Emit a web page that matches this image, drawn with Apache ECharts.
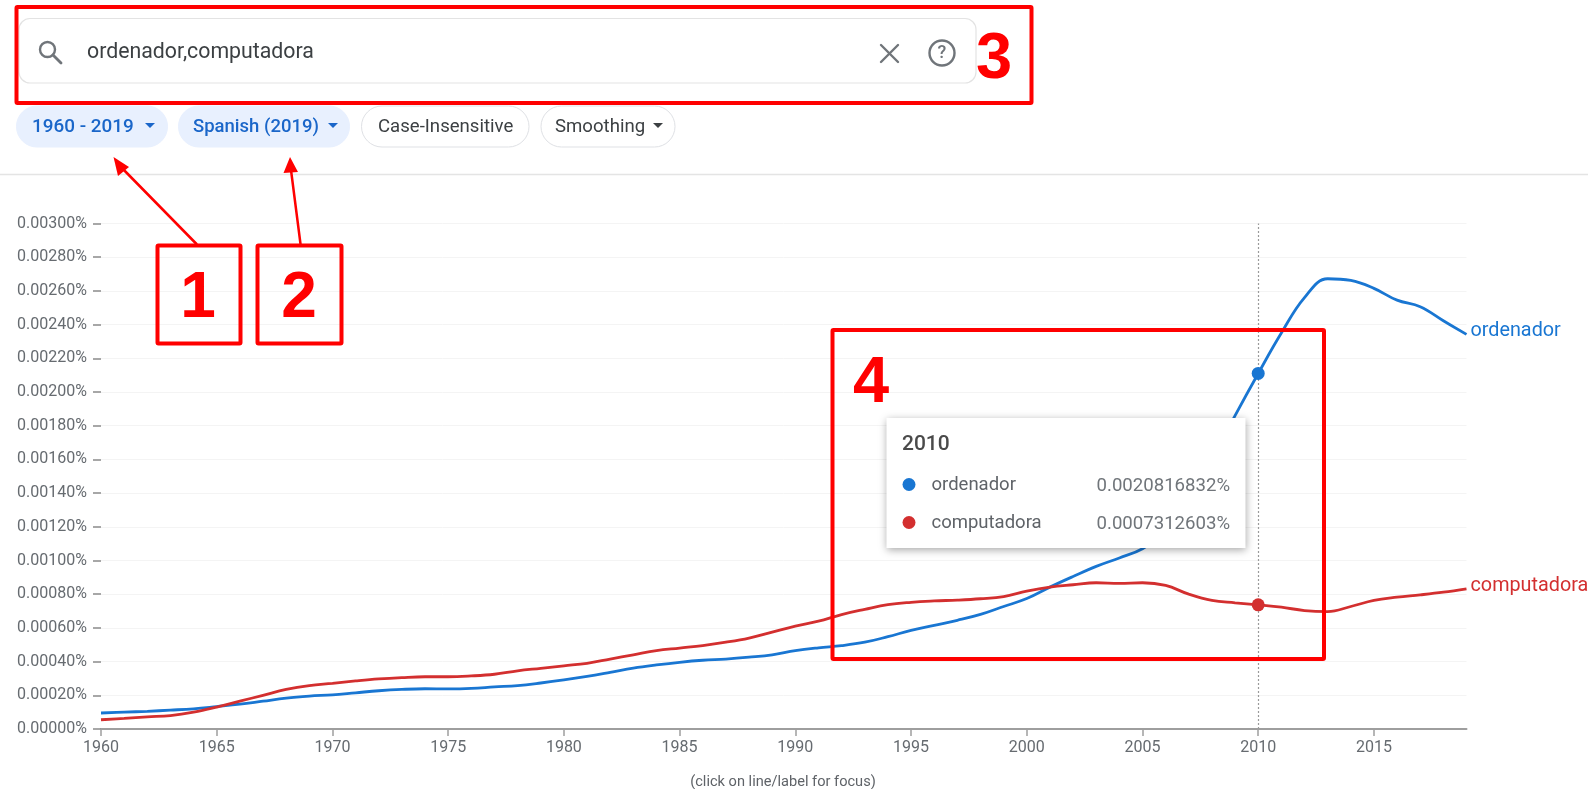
<!DOCTYPE html>
<html><head><meta charset="utf-8">
<style>html,body{margin:0;padding:0;background:#fff}#c{width:1588px;height:789px}</style>
<script src="https://cdn.jsdelivr.net/npm/echarts@6/dist/echarts.min.js"></script>
</head><body><div id="c"></div>
<script>
const years=[];for(let y=1960;y<=2019;y++)years.push(y);
const ordenador=[.000095,.000100,.000105,.000112,.000120,.000133,.000147,.000165,.000183,.000195,.000203,.000215,.000227,.000235,.000239,.000238,.000241,.000250,.000258,.000273,.000291,.000312,.000336,.000361,.000380,.000396,.000408,.000415,.000426,.000440,.000465,.000482,.000495,.000515,.000548,.000585,.000615,.000645,.000680,.000727,.000774,.000842,.000905,.000965,.001015,.001070,.001170,.001340,.001600,.001860,.002110,.002350,.002560,.002672,.002662,.002615,.002545,.002506,.002423,.002342];
const computadora=[.000055,.000063,.000072,.000080,.000100,.000130,.000165,.000200,.000235,.000258,.000271,.000285,.000297,.000305,.000310,.000310,.000315,.000325,.000345,.000360,.000375,.000390,.000415,.000440,.000465,.000480,.000495,.000515,.000540,.000575,.000610,.000640,.000679,.000710,.000738,.000752,.000760,.000765,.000773,.000786,.000818,.000842,.000856,.000868,.000864,.000868,.000852,.000800,.000763,.000749,.000737,.000723,.000703,.000697,.000727,.000763,.000782,.000796,.000812,.000832];
const focusYear=2010;
const queryText='ordenador,computadora';
const chipLabels=['1960 - 2019','Spanish (2019)','Case-Insensitive','Smoothing'];
const tooltipRows=[['ordenador','0.0020816832%'],['computadora','0.0007312603%']];
const BLUE='#1976d2',RED='#d32f2f',FONT='Roboto';
const pairs=a=>a.map((v,i)=>[years[i],v]);

const g=[];
const T=(x,y,text,o={})=>g.push({type:'text',z:o.z||50,x,y,style:{text,fill:o.fill||'#3c4043',font:(o.weight||'400')+' '+(o.size||16)+'px '+(o.family||FONT),textAlign:o.align||'left',textVerticalAlign:'middle'}});
const R=(x,y,w,h,o={})=>g.push({type:'rect',z:o.z||50,shape:{x,y,width:w,height:h,r:o.r||0},style:{fill:o.fill||'none',stroke:o.stroke||'none',lineWidth:o.lw||1,shadowBlur:o.blur||0,shadowColor:o.sc||'transparent',shadowOffsetY:o.sy||0}});
const L=(x1,y1,x2,y2,stroke,lw,z)=>g.push({type:'line',z:z||50,shape:{x1,y1,x2,y2},style:{stroke,lineWidth:lw,lineCap:'round'}});
const TRI=(pts,fill,z)=>g.push({type:'polygon',z:z||50,shape:{points:pts},style:{fill}});

// search bar
R(19,18.5,957,64.5,{r:11,stroke:'#e3e3e3',fill:'#fff',lw:1.2});
g.push({type:'circle',z:50,shape:{cx:47.5,cy:49.5,r:7.5},style:{fill:'none',stroke:'#70757a',lineWidth:2.4}});
L(53,55,61,63,'#70757a',2.8);
T(87,53,queryText,{size:21.3,fill:'#3c4043'});
L(881,45,898,62,'#70757a',2.4);L(898,45,881,62,'#70757a',2.4);
g.push({type:'circle',z:50,shape:{cx:942,cy:53,r:12.5},style:{fill:'none',stroke:'#70757a',lineWidth:2.4}});
T(942,53.5,'?',{size:18,weight:'500',fill:'#70757a',align:'center'});

// chips
const chips=[[16.5,151,true,32,155,18.9],[178.5,171,true,193,338,18.5],[361.5,167.5,false,378,0,18.6],[541,134,false,555,663,18.6]];
chips.forEach((c,i)=>{
  R(c[0],106,c[1],41,{r:20.5,fill:c[2]?'#e8f0fe':'#fff',stroke:c[2]?'#e8f0fe':'#dfe1e5'});
  T(c[3],127,chipLabels[i],{size:c[5],weight:c[2]?'500':'400',fill:c[2]?'#1a66c9':'#3c4043'});
  if(c[4])TRI([[c[4]-10,123],[c[4],123],[c[4]-5,128]],c[2]?'#1a66c9':'#3c4043');
});
L(0,174.5,1588,174.5,'#e4e4e4',1.5);

// red annotations
const ANN='#ff0000';
R(16.5,7,1015,96,{stroke:ANN,lw:4,r:1,z:60});
T(994,60.5,'3',{size:65,weight:'700',fill:ANN,family:'Liberation Sans',align:'center',z:60});
R(157.5,245.5,83,98,{stroke:ANN,lw:4,r:1,z:60});
R(257.5,245.5,84,98,{stroke:ANN,lw:4,r:1,z:60});
T(198,299,'1',{size:64,weight:'700',fill:ANN,family:'Liberation Sans',align:'center',z:60});
T(299,299,'2',{size:64,weight:'700',fill:ANN,family:'Liberation Sans',align:'center',z:60});
L(196.5,244,119,165,ANN,2.5,60);
TRI([[113.5,157],[129,167],[118,176]],ANN,60);
L(300.5,244,291,170,ANN,2.5,60);
TRI([[290,157],[298,172],[283.5,173]],ANN,60);

// tooltip
R(886.5,418,359,130,{fill:'#fff',blur:8,sc:'rgba(0,0,0,0.35)',sy:2,z:70});
T(902,444.5,String(focusYear),{size:21,weight:'500',fill:'#4a4a4a',z:71});
[[BLUE,485],[RED,523]].forEach((r,i)=>{
  g.push({type:'circle',z:71,shape:{cx:909,cy:r[1]-0.5,r:6.5},style:{fill:r[0]}});
  T(931.5,r[1]+0.5,tooltipRows[i][0],{size:18.5,fill:'#5f6368',z:71});
  T(1230,r[1]+1,tooltipRows[i][1],{size:18.6,fill:'#70757a',align:'right',z:71});
});
R(832.5,330,491.5,329,{stroke:ANN,lw:4,r:1,z:75});
T(871,384,'4',{size:65,weight:'700',fill:ANN,family:'Liberation Sans',align:'center',z:75});

// footer
T(783,782.5,'(click on line/label for focus)',{size:14.6,fill:'#5f6368',align:'center'});

const mk=(name,data,color,labelDy)=>({
  type:'line',name,data:pairs(data),smooth:0.4,showSymbol:true,showAllSymbol:true,
  symbol:(v)=>v[0]===focusYear?'circle':'none',symbolSize:13,
  lineStyle:{color,width:2.8},itemStyle:{color},emphasis:{disabled:true},
  endLabel:{show:true,formatter:name,color,fontFamily:FONT,fontSize:19.8,distance:4,offset:[0,labelDy]},
  labelLayout:{hideOverlap:false},animation:false,silent:true,z:5
});
const series=[mk('ordenador',ordenador,BLUE,-3),mk('computadora',computadora,RED,-3)];
series[0].markLine={silent:true,symbol:'none',label:{show:false},animation:false,
  lineStyle:{color:'#9a9a9a',type:[2,2],width:1.2},data:[{xAxis:focusYear}]};

const chart=echarts.init(document.getElementById('c'),null,{renderer:'canvas'});
chart.setOption({
  animation:false,backgroundColor:'#fff',
  grid:{left:101,right:121.5,top:223.5,bottom:60,containLabel:false},
  xAxis:{type:'value',min:1960,max:2019,interval:5,
    axisLine:{show:true,onZero:false,lineStyle:{color:'#9e9e9e',width:2}},
    axisTick:{show:true,length:7,lineStyle:{color:'#9e9e9e',width:1.5}},
    axisLabel:{color:'#666b70',fontFamily:FONT,fontSize:16,margin:11,formatter:v=>String(v),showMaxLabel:false},
    splitLine:{show:false}},
  yAxis:{type:'value',min:0,max:0.003,interval:0.0002,
    axisLine:{show:false},
    axisTick:{show:true,length:8,lineStyle:{color:'#8a8a8a',width:1.5}},
    axisLabel:{color:'#666b70',fontFamily:FONT,fontSize:16,margin:14,formatter:v=>v.toFixed(5)+'%'},
    splitLine:{show:true,lineStyle:{color:'#f4f4f4',width:1}}},
  series,graphic:{elements:g}
});
</script></body></html>
